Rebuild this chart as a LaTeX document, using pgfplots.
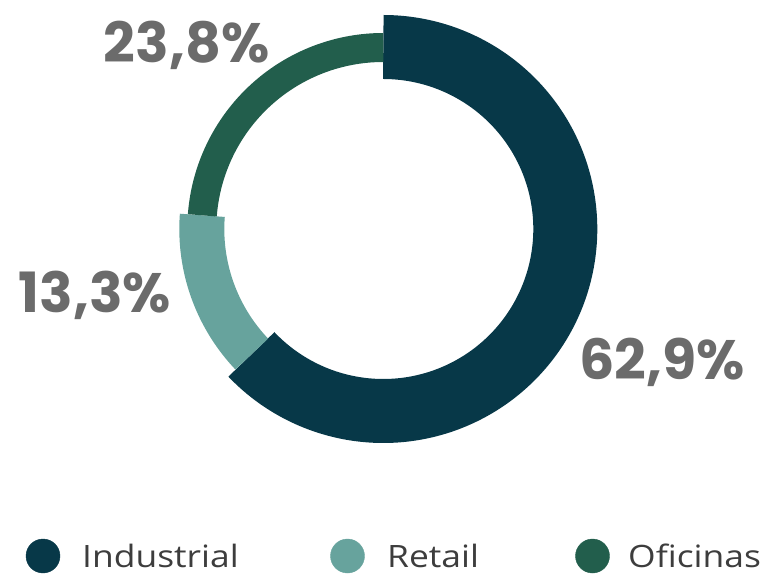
\documentclass[border=0pt]{standalone}
\usepackage{pgfplots}
\pgfplotsset{compat=1.18}
\usepackage{fontspec}
\setmainfont{Open Sans}[FakeStretch=1.15]
\newfontfamily\labfont{Poppins}
\definecolor{cInd}{HTML}{073848}
\definecolor{cRet}{HTML}{67A39D}
\definecolor{cOfi}{HTML}{225E4C}
\definecolor{labgray}{HTML}{6B6B6B}
\definecolor{leggray}{HTML}{3D3D3D}
% shares (percent)
\def\vInd{62.9}
\def\vRet{13.3}
\def\vOfi{23.8}
\begin{document}
\begin{tikzpicture}
\pgfmathsetmacro{\aA}{90}
\pgfmathsetmacro{\aB}{90-3.6*\vInd}
\pgfmathsetmacro{\aC}{\aB-3.6*\vRet}
\pgfmathsetmacro{\aD}{\aC-3.6*\vOfi}
\begin{axis}[
  width=773pt, height=573pt, scale only axis,
  xmin=0, xmax=773, ymin=0, ymax=573,
  hide axis, clip=false,
]
\path (rel axis cs:0,0) rectangle (rel axis cs:1,1);
% ring segments: centre (383.3,344), mid radius 182
\addplot[cInd, line width=64pt, domain=\aA:\aB, samples=240, variable=\t, line cap=butt]
  ({383.3+182*cos(\t)},{344+182*sin(\t)});
\addplot[cRet, line width=45pt, domain=\aB:\aC, samples=80, variable=\t, line cap=butt]
  ({383.3+181.5*cos(\t)},{344+181.5*sin(\t)});
\addplot[cOfi, line width=29pt, domain=\aC:\aD, samples=120, variable=\t, line cap=butt]
  ({383.3+181.5*cos(\t)},{344+181.5*sin(\t)});
% value labels
\node[anchor=base, text=labgray, inner sep=0pt, font=\labfont\bfseries\fontsize{55.5}{60}\selectfont] at (axis cs:186.7,510) {23,8\%};
\node[anchor=base, text=labgray, inner sep=0pt, font=\labfont\bfseries\fontsize{55.5}{60}\selectfont] at (axis cs:95,260) {13,3\%};
\node[anchor=base, text=labgray, inner sep=0pt, font=\labfont\bfseries\fontsize{55.5}{60}\selectfont] at (axis cs:662,193) {62,9\%};
% legend
\addplot[only marks, mark=*, mark size=17pt, cInd, mark options={draw=none}] coordinates {(43,17)};
\addplot[only marks, mark=*, mark size=17pt, cRet, mark options={draw=none}] coordinates {(347.5,17)};
\addplot[only marks, mark=*, mark size=17pt, cOfi, mark options={draw=none}] coordinates {(592.5,17)};
\node[anchor=base west, text=leggray, inner sep=0pt, font=\fontsize{30.8}{36}\selectfont] at (axis cs:82,6) {Industrial};
\node[anchor=base west, text=leggray, inner sep=0pt, font=\fontsize{30.8}{36}\selectfont] at (axis cs:387,6) {Retail};
\node[anchor=base west, text=leggray, inner sep=0pt, font=\fontsize{30.8}{36}\selectfont] at (axis cs:628,6) {Oficinas};
\end{axis}
\end{tikzpicture}
\end{document}
